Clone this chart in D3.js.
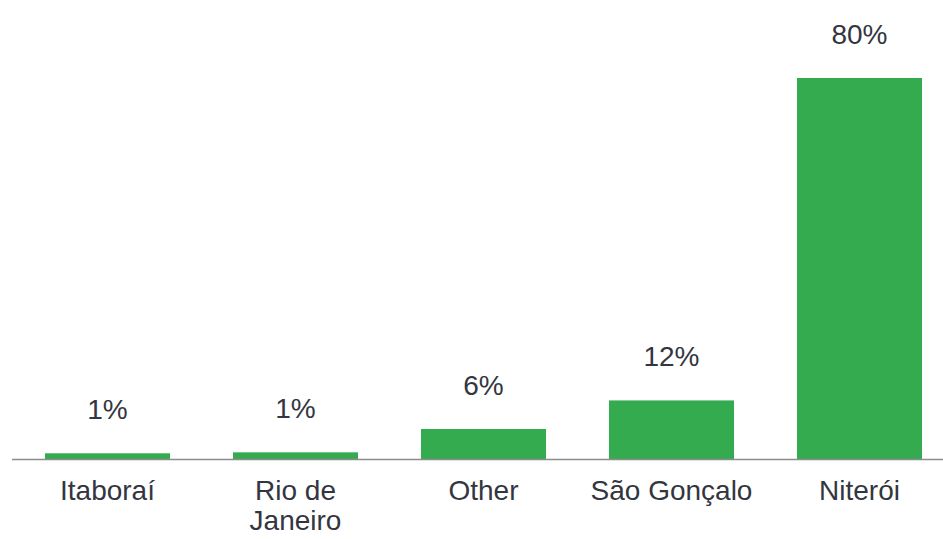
<!DOCTYPE html>
<html>
<head>
<meta charset="utf-8">
<script src="https://cdn.jsdelivr.net/npm/d3@7"></script>
<style>
html,body{margin:0;padding:0;background:#fff;}
svg{display:block;}
</style>
</head>
<body>
<svg id="chart" width="943" height="539"></svg>
<script>
const categories = ["Itaboraí", "Rio de\nJaneiro", "Other", "São Gonçalo", "Niterói"];
const values = [1.2, 1.4, 6.3, 12.3, 80];
const valueLabels = ["1%", "1%", "6%", "12%", "80%"];

const svg = d3.select("#chart");
const x = d3.scaleBand().domain(categories).range([13.5, 953.5]).paddingInner(0.335).paddingOuter(0.1675);
const y = d3.scaleLinear().domain([0, 80]).range([459, 78]);

const green = "#35ab4f";
const textColor = "#333640";
const font = "'Liberation Sans', Arial, sans-serif";

svg.selectAll("rect.bar").data(categories).enter().append("rect")
  .attr("class", "bar")
  .attr("x", d => x(d))
  .attr("width", x.bandwidth())
  .attr("y", (d, i) => y(values[i]))
  .attr("height", (d, i) => y(0) - y(values[i]))
  .attr("fill", green);

// baseline axis
svg.append("line")
  .attr("x1", 12).attr("x2", 943)
  .attr("y1", y(0) + 0.5).attr("y2", y(0) + 0.5)
  .attr("stroke", "#8c8c8c").attr("stroke-width", 1.5);

// value labels
svg.selectAll("text.val").data(categories).enter().append("text")
  .attr("class", "val")
  .attr("x", d => x(d) + x.bandwidth() / 2)
  .attr("y", (d, i) => y(values[i]) - 34)
  .attr("text-anchor", "middle")
  .attr("font-family", font)
  .attr("font-size", 28)
  .attr("fill", textColor)
  .text((d, i) => valueLabels[i]);

// category labels
const cat = svg.selectAll("text.cat").data(categories).enter().append("text")
  .attr("class", "cat")
  .attr("x", d => x(d) + x.bandwidth() / 2)
  .attr("y", 500)
  .attr("text-anchor", "middle")
  .attr("font-family", font)
  .attr("font-size", 28)
  .attr("fill", textColor);
cat.each(function(d) {
  const lines = d.split("\n");
  const t = d3.select(this);
  lines.forEach((l, i) => {
    t.append("tspan")
      .attr("x", x(d) + x.bandwidth() / 2)
      .attr("dy", i === 0 ? 0 : 30)
      .text(l);
  });
});
</script>
</body>
</html>
